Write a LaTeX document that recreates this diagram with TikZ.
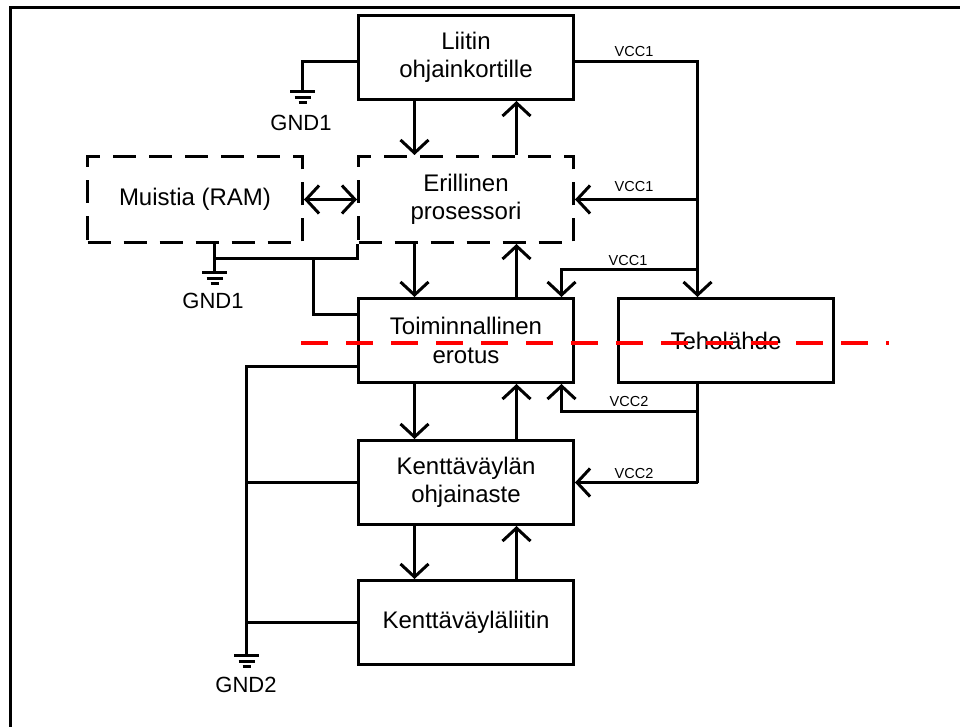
\documentclass[tikz,border=0pt]{standalone}
\usepackage{fontspec}
\setmainfont{Liberation Sans}
\usetikzlibrary{arrows.meta,calc}
\newcommand{\boxfont}{\fontsize{24}{28.5}\selectfont}
\newcommand{\vccfont}{\fontsize{14.5}{16}\selectfont}
\newcommand{\gndfont}{\fontsize{22}{24}\selectfont}
\tikzset{
  blk/.style={draw, line width=3pt, minimum width=215pt, minimum height=84pt,
    align=center, inner sep=0pt, font=\boxfont},
  dblk/.style={blk, minimum height=86pt, dash pattern=on 23pt off 13pt},
  vcclabel/.style={inner sep=0pt, font=\vccfont},
  gndlabel/.style={inner sep=0pt, font=\gndfont},
  ground/.pic={\draw (-12.5,0)--(12.5,0) (-8,6)--(8,6) (-4,11)--(4,11);}
}
\begin{document}
\begin{tikzpicture}[x=1pt, y=-1pt, line width=3pt,
  >={Straight Barb[length=13pt,width=28pt]}]
\useasboundingbox (0,0) rectangle (960,727);
% frame
\draw[line width=3.2pt] (960,7.5) -| (10.5,727);

% blocks
\node[blk]  (liitin)  at (466,57.5)    {Liitin\\ohjainkortille};
\node[dblk] (muistia) at (195,199.5)   {Muistia (RAM)};
\node[dblk] (erill)   at (466,199.5)   {Erillinen\\prosessori};
\node[blk]  (toim)    at (466,340.5)   {Toiminnallinen\\erotus};
\node[blk]  (tehol)   at (726,340.5)   {Teholähde};
\node[blk]  (kentta)  at (466,482.5)   {Kenttäväylän\\ohjainaste};
\node[blk]  (kliitin) at (466,622.5)   {Kenttäväyläliitin};

% helper columns
\coordinate (ax) at (414.5,0);
\coordinate (bx) at (516.5,0);
\coordinate (vx) at (697.5,0);
\coordinate (tx) at (561.5,0);

% data paths
\draw[->] (liitin.south -| ax) -- (erill.north -| ax);
\draw[->] (erill.north -| bx) -- (liitin.south -| bx);
\draw[<->] (muistia.east) -- (erill.west);
\draw[->] (erill.south -| ax) -- (toim.north -| ax);
\draw[->] (toim.north -| bx) -- (erill.south -| bx);
\draw[->] (toim.south -| ax) -- (kentta.north -| ax);
\draw[->] (kentta.north -| bx) -- (toim.south -| bx);
\draw[->] (kentta.south -| ax) -- (kliitin.north -| ax);
\draw[->] (kliitin.north -| bx) -- (kentta.south -| bx);

% VCC1 supply
\draw[->] ($(liitin.east)+(0,4)$) -| (tehol.north -| vx);
\draw[->] (vx |- erill.east) -- (erill.east);
\draw[->] (vx |- 0,269.5) -| (toim.north -| tx);
\node[vcclabel] (v1a) at (634,52)  {VCC1};
\node[vcclabel] (v1b) at (634,187) {VCC1};
\node[vcclabel] (v1c) at (628,261) {VCC1};

% VCC2 supply
\draw (tehol.south -| vx) -- (vx |- kentta.east);
\draw[->] (vx |- kentta.east) -- (kentta.east);
\draw[->] (vx |- 0,411.5) -| (toim.south -| tx);
\node[vcclabel] (v2a) at (629,402) {VCC2};
\node[vcclabel] (v2b) at (634,474) {VCC2};

% GND1 at the connector
\coordinate (g1) at (302.5,91.5);
\draw ($(liitin.west)+(0,4)$) -| (g1);
\pic at (g1) {ground};
\node[gndlabel] (gl1) at (301,122.5) {GND1};

% GND1 at the memory
\coordinate (g2) at (214.5,272.5);
\draw (muistia.south -| g2) -- (g2);
\draw (g2 |- 0,258.5) -| (erill.south west);
\draw (313.5,258.5) |- ($(toim.west)+(0,-26)$);
\pic at (g2) {ground};
\node[gndlabel] (gl2) at (213,301) {GND1};

% GND2
\coordinate (g3) at (246.5,655.5);
\draw ($(toim.west)+(0,26)$) -| (g3);
\draw (kentta.west) -- (kentta.west -| g3);
\draw (kliitin.west) -- (kliitin.west -| g3);
\pic at (g3) {ground};
\node[gndlabel] (gl3) at (246,685) {GND2};

% isolation barrier
\draw[red, line width=4pt, dash pattern=on 27pt off 18pt] (301,343) -- (889,343);
\end{tikzpicture}
\end{document}
